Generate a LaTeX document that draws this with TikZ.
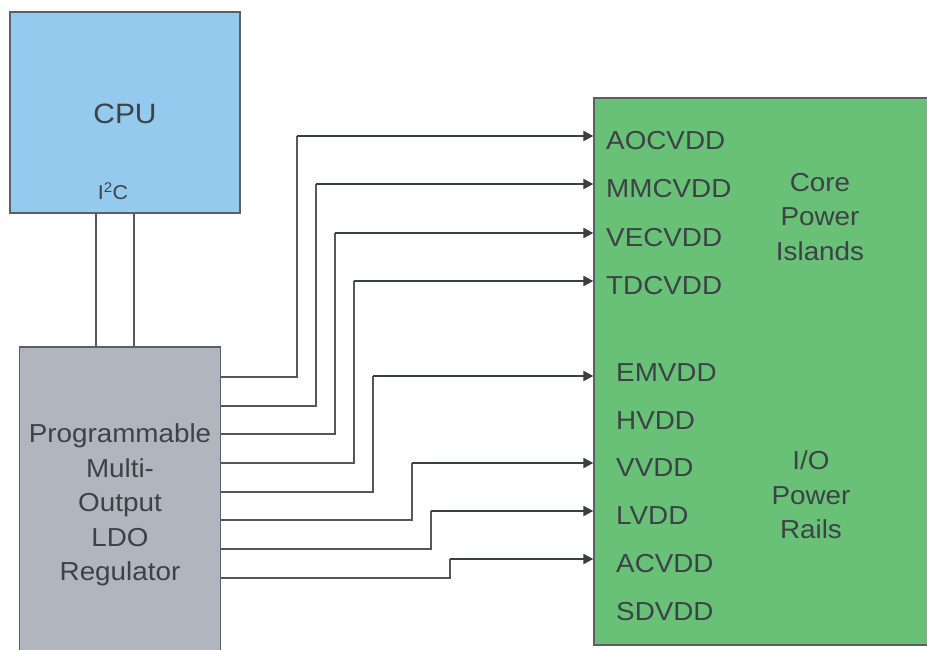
\documentclass[tikz,border=0pt]{standalone}
\usepackage{fontspec}
\setmainfont{Liberation Sans}[FakeStretch=1.07]
\usetikzlibrary{arrows.meta}
\definecolor{cpublue}{HTML}{94CAEE}
\definecolor{ldogray}{HTML}{B1B6BE}
\definecolor{railgreen}{HTML}{68C177}
\definecolor{edge}{HTML}{5A6064}
\definecolor{ink}{HTML}{3C4245}
\definecolor{wiregray}{HTML}{55595C}
\definecolor{feeddark}{HTML}{3A3F40}
\tikzset{
  block/.style={draw=edge, line width=1.3pt, inner sep=0pt},
  lbl/.style={text=ink, font=\fontsize{26}{34.5}\selectfont, inner sep=0pt},
  sidelbl/.style={lbl, align=center},
  pinlbl/.style={lbl, anchor=west},
  wire/.style={draw=wiregray, line width=1.3pt},
  feed/.style={draw=feeddark, line width=2.2pt, -{Triangle[length=10pt,width=10pt]}}
}
\begin{document}
\begin{tikzpicture}[x=1pt,y=-1pt]
\useasboundingbox (0,0) rectangle (927,649);
\clip (0,0) rectangle (927,649);

% blocks
\node[block, fill=cpublue, minimum width=230pt, minimum height=201pt] (cpu) at (125,112.5) {};
\node[block, fill=ldogray, minimum width=201pt, minimum height=320pt] (ldo) at (120,507) {};
\node[block, fill=railgreen, minimum width=340pt, minimum height=547pt] (rail) at (764,371.5) {};

% block texts
\node[lbl, font=\fontsize{28}{34}\selectfont] (cputxt) at (125,114) {CPU};
\node[lbl, font=\fontsize{20}{24}\selectfont] (i2c) at (113,191) {I\textsuperscript{2}C};
\node[sidelbl] (ldotxt) at (120,505) {Programmable\\Multi-\\Output\\LDO\\Regulator};
\node[sidelbl] (core) at (820,217) {Core\\Power\\Islands};
\node[sidelbl] (io) at (811,495) {I/O\\Power\\Rails};

% supply pin names
\node[pinlbl] (aoc) at (606,141) {AOCVDD};
\node[pinlbl] (mmc) at (606,189) {MMCVDD};
\node[pinlbl] (vec) at (606,238) {VECVDD};
\node[pinlbl] (tdc) at (606,286) {TDCVDD};
\node[pinlbl] (em) at (616,373) {EMVDD};
\node[pinlbl] (hv) at (616,421) {HVDD};
\node[pinlbl] (vv) at (616,468) {VVDD};
\node[pinlbl] (lv) at (616,516) {LVDD};
\node[pinlbl] (ac) at (616,564) {ACVDD};
\node[pinlbl] (sd) at (616,612) {SDVDD};

% I2C bus
\coordinate (sda) at (96,0);
\coordinate (scl) at (134,0);
\draw[wire] (cpu.south -| sda) -- (ldo.north -| sda);
\draw[wire] (cpu.south -| scl) -- (ldo.north -| scl);

% regulator outputs to the supply inputs
\foreach \n/\yo/\xv/\yt in {1/377/297/136, 2/406/316/184, 3/434/335/233, 4/463/354/281,
                            5/492/373/376, 6/520/412/463, 7/549/431/511, 8/578/450/559} {
  \draw[wire] (ldo.east |- 0,\yo) -| (\xv,\yt) coordinate (k\n);
  \draw[feed] (k\n) -- (rail.west |- k\n);
}
\end{tikzpicture}
\end{document}
